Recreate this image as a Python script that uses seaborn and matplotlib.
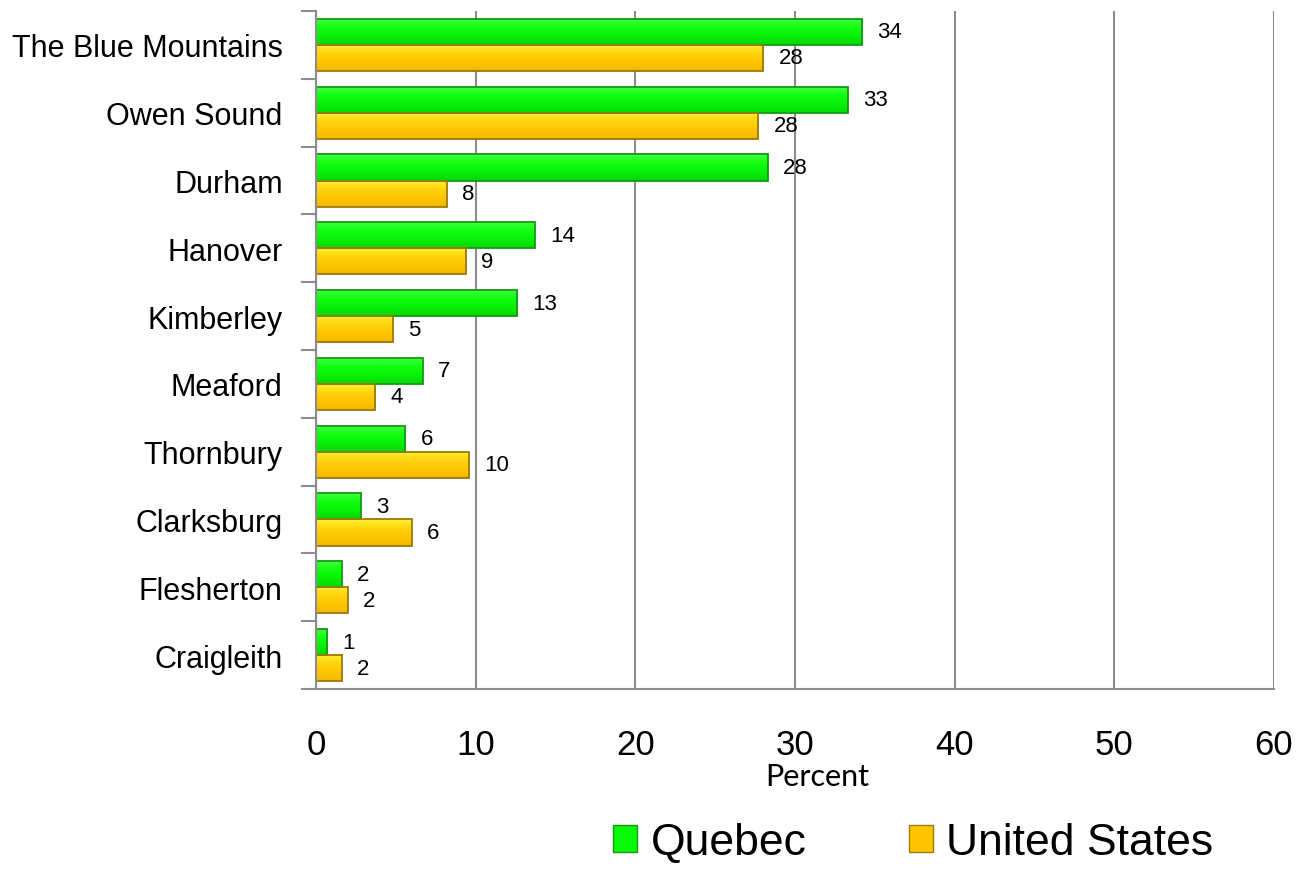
import matplotlib
matplotlib.use("Agg")
import matplotlib.pyplot as plt
import seaborn as sns
import pandas as pd
import numpy as np
from matplotlib.patches import Patch
from matplotlib.colors import LinearSegmentedColormap

towns = ["The Blue Mountains", "Owen Sound", "Durham", "Hanover", "Kimberley",
         "Meaford", "Thornbury", "Clarksburg", "Flesherton", "Craigleith"]
quebec = [34.2, 33.3, 28.3, 13.7, 12.6, 6.7, 5.6, 2.8, 1.6, 0.7]
usa = [28.0, 27.7, 8.2, 9.4, 4.8, 3.7, 9.6, 6.0, 2.0, 1.6]
quebec_labels = ["34", "33", "28", "14", "13", "7", "6", "3", "2", "1"]
usa_labels = ["28", "28", "8", "9", "5", "4", "10", "6", "2", "2"]
series = ["Quebec", "United States"]
x_ticks = [0, 10, 20, 30, 40, 50, 60]

df = pd.DataFrame({
    "Town": towns * 2,
    "Region": [series[0]] * len(towns) + [series[1]] * len(towns),
    "Value": quebec + usa,
})

sns.set_theme(style="white")
plt.rcParams["font.family"] = ["Liberation Sans", "DejaVu Sans"]
plt.rcParams["text.color"] = "black"
plt.rcParams["axes.labelcolor"] = "black"
plt.rcParams["xtick.color"] = "black"
plt.rcParams["ytick.color"] = "black"

green = "#0AF80A"
yellow = "#FFC600"
edges = ["#139A13", "#9A7A08"]
grads = [
    LinearSegmentedColormap.from_list("g", ["#46FF46", "#12FF12", "#08F008", "#05D805"]),
    LinearSegmentedColormap.from_list("y", ["#FFF22E", "#FFD410", "#FFC400", "#F2B800"]),
]

fig = plt.figure(figsize=(12.99, 8.70), dpi=100)
ax = fig.add_axes([0.2433, 0.2069, 0.7375, 0.7793])

sns.barplot(data=df, y="Town", x="Value", hue="Region", orient="h",
            palette={series[0]: green, series[1]: yellow}, width=0.77,
            ax=ax, legend=False, saturation=1)

grad = np.linspace(0, 1, 64).reshape(-1, 1)
for i, cont in enumerate(ax.containers):
    for p in cont:
        p.set_edgecolor(edges[i])
        p.set_linewidth(1.3)
        x0, y0 = p.get_x(), p.get_y()
        w, h = p.get_width(), p.get_height()
        im = ax.imshow(grad, cmap=grads[i], extent=[x0, x0 + w, y0 + h, y0],
                       aspect="auto", zorder=p.get_zorder() + 0.05,
                       interpolation="bilinear")
        im.set_clip_path(p)
    labels = quebec_labels if i == 0 else usa_labels
    ax.bar_label(cont, labels=labels, padding=11, fontsize=16, color="black")

# draw bar outlines on top of gradients
for i, cont in enumerate(ax.containers):
    for p in cont:
        p.set_zorder(p.get_zorder() + 0.1)
        p.set_facecolor("none")

ax.set_xlim(0, 60)
ax.set_ylim(9.5, -0.5)
ax.set_xticks(x_ticks)
ax.set_xticklabels([str(t) for t in x_ticks], fontsize=25)
ax.tick_params(axis="x", direction="out", length=10, width=1.5, color="#8C8C8C", pad=18)
ax.set_yticks(range(len(towns)))
ax.set_yticklabels(towns, fontsize=22)
ax.tick_params(axis="y", length=0, pad=24)
ax.set_yticks([i - 0.5 for i in range(len(towns) + 1)], minor=True)
ax.tick_params(axis="y", which="minor", direction="out", length=11, width=1.5, color="#8C8C8C", left=True)

ax.xaxis.grid(True, color="#8C8C8C", linewidth=1.5)
ax.yaxis.grid(False)
ax.set_axisbelow(True)
for s in ["top", "right"]:
    ax.spines[s].set_visible(False)
for s in ["left", "bottom"]:
    ax.spines[s].set_color("#8C8C8C")
    ax.spines[s].set_linewidth(1.5)

ax.set_ylabel("")
ax.set_xlabel("Percent", fontsize=22, family=["Lato", "DejaVu Sans"], color="black")
ax.xaxis.set_label_coords(0.523, -0.107)

handles = [Patch(facecolor=green, edgecolor=edges[0], label=series[0]),
           Patch(facecolor=yellow, edgecolor=edges[1], label=series[1])]
fig.legend(handles=handles, loc="center", bbox_to_anchor=(0.703, 0.03), ncol=2,
           frameon=False, fontsize=32, handlelength=0.55, handleheight=0.55,
           handletextpad=0.3, columnspacing=2.3, borderpad=0.2)

fig.savefig("out.png", dpi=100)
